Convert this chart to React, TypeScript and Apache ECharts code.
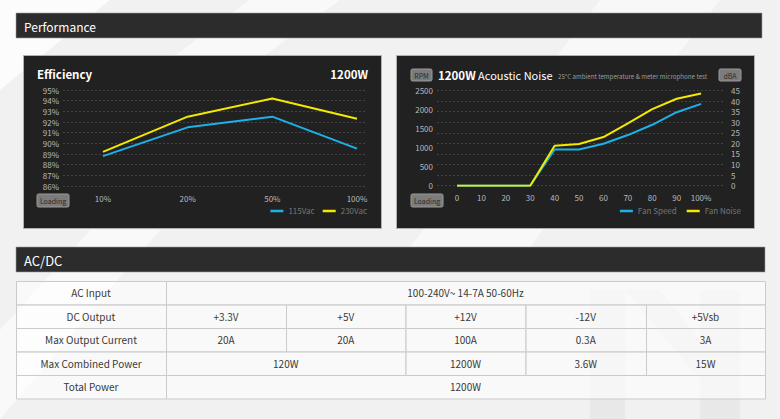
import React, { useEffect, useRef } from 'react';
import * as echarts from 'echarts';

// ---- Efficiency chart data ----
const effLoads = ['10%', '20%', '50%', '100%'];
const eff115 = [88.8, 91.5, 92.5, 89.5];
const eff230 = [89.2, 92.5, 94.2, 92.3];

// ---- Acoustic noise chart data ----
const noiseLoads = [0, 10, 20, 30, 40, 50, 60, 70, 80, 90, 100];
const fanSpeed = [0, 0, 0, 0, 950, 950, 1100, 1330, 1600, 1930, 2150];
const fanNoise = [0, 0, 0, 0, 18.9, 19.7, 23, 29.5, 36.2, 41.1, 43.6];

// ---- AC/DC table data ----
const rowLabels = ['AC Input', 'DC Output', 'Max Output Current', 'Max Combined Power', 'Total Power'];
const acInput = '100-240V~ 14-7A 50-60Hz';
const dcOutputs = ['+3.3V', '+5V', '+12V', '-12V', '+5Vsb'];
const maxCurrents = ['20A', '20A', '100A', '0.3A', '3A'];
const combinedPower = ['120W', '1200W', '3.6W', '15W'];
const combinedSpan = [2, 1, 1, 1];
const totalPower = '1200W';

const FF = '"Noto Sans CJK SC", "Noto Sans", sans-serif';
const TF = '"Noto Sans CJK SC", "Noto Sans", sans-serif';
const BLUE = '#1cb2e8';
const YELLOW = '#f3ea00';
const LABEL = '#b8b8b8';

function txt(x: number, y: number, text: string, font: string, fill: string, align = 'left', z = 10) {
  return {
    type: 'text', x, y, z, silent: true,
    style: { text, font, fill, align, verticalAlign: 'middle', textAlign: align, textVerticalAlign: 'middle' },
  };
}

function badge(x: number, y: number, w: number, h: number, text: string) {
  return [
    { type: 'rect', z: 5, silent: true, shape: { x, y, width: w, height: h, r: 1.5 }, style: { fill: '#7c7c7c', stroke: '#9a9a9a', lineWidth: 1 } },
    txt(x + w / 2, y + h / 2 + 0.5, text, `7px ${FF}`, '#2a2a2a', 'center'),
  ];
}

function buildTable() {
  const colX = [16, 166, 286, 405.5, 525.5, 646, 765];
  const rowY = [281, 304.5, 328, 351.5, 375, 398.5];
  const els: any[] = [];
  const cell = (r: number, c0: number, c1: number, text: string) => {
    const x = colX[c0], y = rowY[r], w = colX[c1] - colX[c0], h = rowY[r + 1] - rowY[r];
    els.push({ type: 'rect', z: 1, silent: true, shape: { x: x + 0.5, y: y + 0.5, width: w, height: h }, style: { fill: 'rgba(255,255,255,0.6)', stroke: '#cbcbcb', lineWidth: 1 } });
    els.push(txt(x + w / 2, y + h / 2, text, `10px ${TF}`, '#3a3a3a', 'center'));
  };
  rowLabels.forEach((l, r) => cell(r, 0, 1, l));
  cell(0, 1, 6, acInput);
  dcOutputs.forEach((t, i) => cell(1, i + 1, i + 2, t));
  maxCurrents.forEach((t, i) => cell(2, i + 1, i + 2, t));
  let c = 1;
  combinedPower.forEach((t, i) => { cell(3, c, c + combinedSpan[i], t); c += combinedSpan[i]; });
  cell(4, 1, 6, totalPower);
  return els;
}

export default function App() {
  const ref = useRef<HTMLDivElement>(null);
  useEffect(() => {
    if (!ref.current) return;
    const chart = echarts.init(ref.current, null, { renderer: 'svg' });
    const bgShapes = [
      { type: 'polygon', z: -20, silent: true, shape: { points: [[0, 0], [110, 0], [0, 90]] }, style: { fill: 'rgba(255,255,255,0.8)' } },
      { type: 'polygon', z: -20, silent: true, shape: { points: [[250, 0], [340, 0], [150, 140], [60, 140]] }, style: { fill: 'rgba(255,255,255,0.6)' } },
      { type: 'polygon', z: -20, silent: true, shape: { points: [[600, 0], [720, 0], [520, 260], [400, 260]] }, style: { fill: 'rgba(255,255,255,0.5)' } },
      { type: 'polygon', z: -20, silent: true, shape: { points: [[0, 330], [90, 230], [160, 230], [0, 419]] }, style: { fill: 'rgba(255,255,255,0.6)' } },
      { type: 'rect', z: -20, silent: true, shape: { x: 590, y: 290, width: 35, height: 129 }, style: { fill: '#e8e8e8' } },
      { type: 'rect', z: -20, silent: true, shape: { x: 700, y: 290, width: 40, height: 129 }, style: { fill: '#e8e8e8' } },
      { type: 'polygon', z: -20, silent: true, shape: { points: [[625, 290], [660, 290], [700, 340], [700, 380]] }, style: { fill: '#e8e8e8' } },
    ];
    const panels = [
      { type: 'rect', z: -10, silent: true, shape: { x: 16, y: 13, width: 746, height: 25 }, style: { fill: '#2c2c2c', stroke: '#a0a0a0', lineWidth: 0.6 } },
      { type: 'rect', z: -10, silent: true, shape: { x: 23.5, y: 55.5, width: 358, height: 173 }, style: { fill: '#212121', stroke: '#b0b0b0', lineWidth: 1 } },
      { type: 'rect', z: -10, silent: true, shape: { x: 396.5, y: 55.5, width: 358, height: 173 }, style: { fill: '#212121', stroke: '#b0b0b0', lineWidth: 1 } },
      { type: 'rect', z: -10, silent: true, shape: { x: 16, y: 247, width: 749, height: 25 }, style: { fill: '#2c2c2c', stroke: '#a0a0a0', lineWidth: 0.6 } },
    ];
    const texts = [
      txt(24, 26, 'Performance', `12px ${FF}`, '#ffffff'),
      txt(24, 260, 'AC/DC', `13px ${FF}`, '#ffffff'),
      txt(37, 74, 'Efficiency', `bold 11.5px ${FF}`, '#ffffff'),
      txt(368, 74, '1200W', `bold 11.5px ${FF}`, '#ffffff', 'right'),
      {
        type: 'text', x: 438, y: 75, z: 10, silent: true,
        style: {
          text: '{b|1200W}{n| Acoustic Noise}', fill: '#ffffff', verticalAlign: 'middle', textVerticalAlign: 'middle',
          rich: { b: { font: `bold 11.5px ${FF}`, fill: '#ffffff' }, n: { font: `11px ${FF}`, fill: '#ffffff' } },
        },
      },
      txt(558, 76, '25°C ambient temperature & meter microphone test', `6.2px ${FF}`, '#9a9a9a'),
      ...badge(411, 69, 21, 12, 'RPM'),
      ...badge(719, 69, 22, 12, 'dBA'),
      ...badge(37, 194, 32, 13, 'Loading'),
      ...badge(411, 194, 32, 13, 'Loading'),
    ];

    const axisCommon = {
      axisLine: { show: false },
      axisTick: { show: false },
    };
    const option: any = {
      animation: false,
      backgroundColor: '#f1f1f1',
      textStyle: { fontFamily: FF },
      grid: [
        { left: 63, right: 780 - 367, top: 90, height: 96 },
        { left: 437, right: 780 - 725, top: 90.5, height: 95.2 },
      ],
      xAxis: [
        {
          gridIndex: 0, type: 'value', min: -0.472, max: 3.118, ...axisCommon,
          splitLine: { show: false },
          axisLabel: { customValues: [0, 1, 2, 3], formatter: (v: number) => effLoads[Math.round(v)] ?? '', color: LABEL, fontSize: 8, margin: 8, fontFamily: FF },
        },
        {
          gridIndex: 1, type: 'value', min: -8.2, max: 109.8, ...axisCommon,
          splitLine: { show: false },
          axisLabel: { customValues: noiseLoads, formatter: (v: number) => (v === 100 ? '100%' : String(v)), color: LABEL, fontSize: 8, margin: 8, fontFamily: FF },
        },
      ],
      yAxis: [
        {
          gridIndex: 0, type: 'value', min: 86, max: 95, interval: 1, ...axisCommon,
          splitLine: { show: true, lineStyle: { color: '#444444', type: [2, 2], width: 1 } },
          axisLabel: { formatter: '{value}%', color: LABEL, fontSize: 8, margin: 4, fontFamily: FF },
        },
        {
          gridIndex: 1, type: 'value', position: 'left', min: 0, max: 2500, interval: 500, ...axisCommon,
          splitLine: { show: false },
          axisLabel: { formatter: (v: number) => String(v), color: LABEL, fontSize: 8, margin: 4, fontFamily: FF },
        },
        {
          gridIndex: 1, type: 'value', position: 'right', min: 0, max: 45, interval: 5, ...axisCommon,
          splitLine: { show: true, lineStyle: { color: '#444444', type: [2, 2], width: 1 } },
          axisLabel: { formatter: (v: number) => String(v), color: LABEL, fontSize: 8, margin: 6, fontFamily: FF },
        },
      ],
      legend: [
        {
          data: ['115Vac', '230Vac'], right: 780 - 367, top: 207, icon: 'rect', itemWidth: 13, itemHeight: 2.5, itemGap: 8, padding: 0,
          textStyle: { color: '#777777', fontSize: 8, fontFamily: FF },
        },
        {
          data: ['Fan Speed', 'Fan Noise'], right: 780 - 741, top: 207, icon: 'rect', itemWidth: 13, itemHeight: 2.5, itemGap: 10, padding: 0,
          textStyle: { color: '#777777', fontSize: 8, fontFamily: FF },
        },
      ],
      series: [
        {
          type: 'line', name: '115Vac', xAxisIndex: 0, yAxisIndex: 0, showSymbol: false, symbol: 'none',
          data: effLoads.map((_, i) => [i, eff115[i]]), lineStyle: { color: BLUE, width: 2 }, itemStyle: { color: BLUE },
        },
        {
          type: 'line', name: '230Vac', xAxisIndex: 0, yAxisIndex: 0, showSymbol: false, symbol: 'none',
          data: effLoads.map((_, i) => [i, eff230[i]]), lineStyle: { color: YELLOW, width: 2 }, itemStyle: { color: YELLOW },
        },
        {
          type: 'line', name: 'Fan Speed', xAxisIndex: 1, yAxisIndex: 1, showSymbol: false, symbol: 'none',
          data: noiseLoads.map((x, i) => [x, fanSpeed[i]]), lineStyle: { color: BLUE, width: 2 }, itemStyle: { color: BLUE },
        },
        {
          type: 'line', name: 'Fan Noise', xAxisIndex: 1, yAxisIndex: 2, showSymbol: false, symbol: 'none',
          data: noiseLoads.map((x, i) => [x, fanNoise[i]]), lineStyle: { color: YELLOW, width: 2 }, itemStyle: { color: YELLOW },
        },
      ],
      graphic: { elements: [...bgShapes, ...panels, ...buildTable(), ...texts] },
    };
    chart.setOption(option);
    return () => chart.dispose();
  }, []);
  return <div ref={ref} style={{ position: 'fixed', left: 0, top: 0, width: 780, height: 419 }} />;
}
